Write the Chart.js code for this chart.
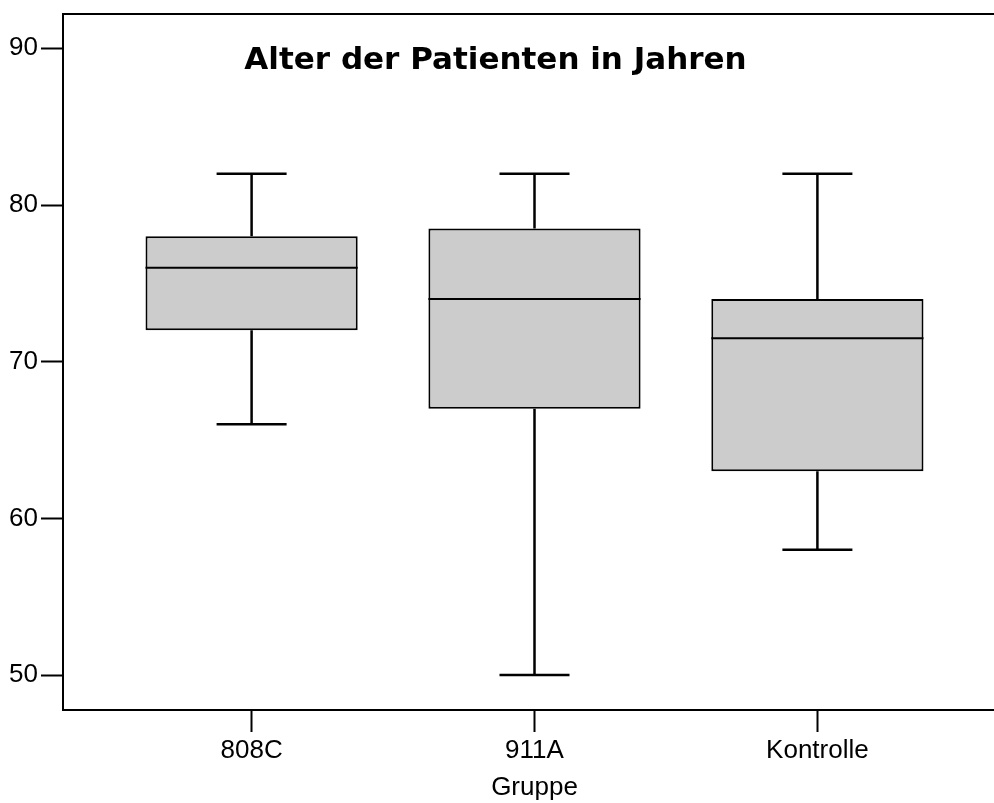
<!DOCTYPE html>
<html>
<head>
<meta charset="utf-8">
<script src="https://cdn.jsdelivr.net/npm/chart.js@4.4.1/dist/chart.umd.min.js"></script>
<style>
html, body { margin: 0; padding: 0; background: #fff; overflow: hidden; }
</style>
</head>
<body>
<canvas id="boxCanvas" width="1010" height="803"></canvas>
<script>
// Alter der Patienten je Gruppe (Boxplot)
var groups = ['808C', '911A', 'Kontrolle'];
var groupPos = [1, 2, 3];
var whiskerLow = [66, 50, 58];
var boxLow = [72, 67, 63];
var medians = [76, 74, 71.5];
var boxHigh = [78, 78.5, 74];
var whiskerHigh = [82, 82, 82];
var yTicks = [50, 60, 70, 80, 90];
var chartTitle = 'Alter der Patienten in Jahren';
var xTitle = 'Gruppe';

var boxData = [];
for (var i = 0; i < groups.length; i++) {
    boxData.push({ x: groupPos[i], y: [boxLow[i], boxHigh[i]] });
}

var boxParts = {
    id: 'boxParts',
    beforeDatasetsDraw: function (chart) {
        var ctx = chart.ctx;
        var xs = chart.scales.x, ys = chart.scales.y;
        var meta = chart.getDatasetMeta(0);
        ctx.save();
        ctx.strokeStyle = '#000';
        ctx.lineWidth = 2.5;
        meta.data.forEach(function (bar, i) {
            var cx = xs.getPixelForValue(groupPos[i]);
            var half = bar.width * 0.165;
            var yLo = ys.getPixelForValue(whiskerLow[i]);
            var yHi = ys.getPixelForValue(whiskerHigh[i]);
            var yQ1 = ys.getPixelForValue(boxLow[i]);
            var yQ3 = ys.getPixelForValue(boxHigh[i]);
            ctx.beginPath();
            ctx.moveTo(cx, yQ1); ctx.lineTo(cx, yLo);
            ctx.moveTo(cx, yQ3); ctx.lineTo(cx, yHi);
            ctx.moveTo(cx - half, yLo); ctx.lineTo(cx + half, yLo);
            ctx.moveTo(cx - half, yHi); ctx.lineTo(cx + half, yHi);
            ctx.stroke();
        });
        ctx.restore();
    },
    afterDatasetsDraw: function (chart) {
        var ctx = chart.ctx;
        var ys = chart.scales.y;
        var meta = chart.getDatasetMeta(0);
        ctx.save();
        ctx.strokeStyle = '#000';
        ctx.lineWidth = 2;
        meta.data.forEach(function (bar, i) {
            var ym = ys.getPixelForValue(medians[i]);
            ctx.beginPath();
            ctx.moveTo(bar.x - bar.width / 2, ym);
            ctx.lineTo(bar.x + bar.width / 2, ym);
            ctx.stroke();
        });
        ctx.restore();
    },
    afterDraw: function (chart) {
        var ctx = chart.ctx;
        var a = chart.chartArea;
        ctx.save();
        // Rahmen oben und rechts
        ctx.strokeStyle = '#000';
        ctx.lineWidth = 2;
        ctx.beginPath();
        ctx.moveTo(a.left - 1, a.top);
        ctx.lineTo(a.right, a.top);
        ctx.lineTo(a.right, a.bottom);
        ctx.stroke();
        // Titel im Diagramm
        ctx.fillStyle = '#000';
        ctx.font = 'bold 31px "DejaVu Sans"';
        ctx.textAlign = 'center';
        ctx.textBaseline = 'alphabetic';
        ctx.fillText(chartTitle, a.left + 432.5, a.top + 55);
        ctx.restore();
    }
};

var config = {
    type: 'bar',
    data: {
        datasets: [{
            label: 'Alter',
            data: boxData,
            backgroundColor: '#cccccc',
            borderColor: '#000',
            borderWidth: 2,
            borderSkipped: false,
            categoryPercentage: 1.0,
            barPercentage: 0.75
        }]
    },
    options: {
        responsive: false,
        devicePixelRatio: 1,
        animation: false,
        layout: { padding: { top: 14, right: 4, left: 0, bottom: 0 } },
        plugins: {
            legend: { display: false },
            tooltip: { enabled: false },
            title: { display: false }
        },
        scales: {
            x: {
                type: 'linear',
                min: 1 / 3,
                max: 11 / 3,
                offset: false,
                afterBuildTicks: function (scale) {
                    scale.ticks = groupPos.map(function (v) { return { value: v }; });
                },
                afterFit: function (scale) { scale.height = 93; },
                grid: {
                    offset: false,
                    drawOnChartArea: false,
                    drawTicks: true,
                    tickLength: 22,
                    tickWidth: 2,
                    tickColor: '#000'
                },
                border: { display: true, color: '#000', width: 2 },
                ticks: {
                    color: '#000',
                    padding: 3,
                    maxRotation: 0,
                    font: { family: '"Liberation Sans", Arial', size: 26 },
                    callback: function (value) {
                        var k = groupPos.indexOf(value);
                        return k >= 0 ? groups[k] : '';
                    }
                },
                title: {
                    display: true,
                    text: xTitle,
                    color: '#000',
                    padding: 0,
                    font: { family: '"Liberation Sans", Arial', size: 26 }
                }
            },
            y: {
                type: 'linear',
                min: 47.77,
                max: 92.19,
                beginAtZero: false,
                afterBuildTicks: function (scale) {
                    scale.ticks = yTicks.map(function (v) { return { value: v }; });
                },
                afterFit: function (scale) {
                    scale.width = 63;
                    scale.paddingTop = 0;
                    scale.paddingBottom = 0;
                },
                grid: {
                    drawOnChartArea: false,
                    drawTicks: true,
                    tickLength: 22,
                    tickWidth: 2,
                    tickColor: '#000'
                },
                border: { display: true, color: '#000', width: 2 },
                ticks: {
                    color: '#000',
                    padding: 3,
                    font: { family: '"Liberation Sans", Arial', size: 26, lineHeight: 1 }
                }
            }
        }
    },
    plugins: [boxParts]
};

new Chart(document.getElementById('boxCanvas'), config);
</script>
</body>
</html>
